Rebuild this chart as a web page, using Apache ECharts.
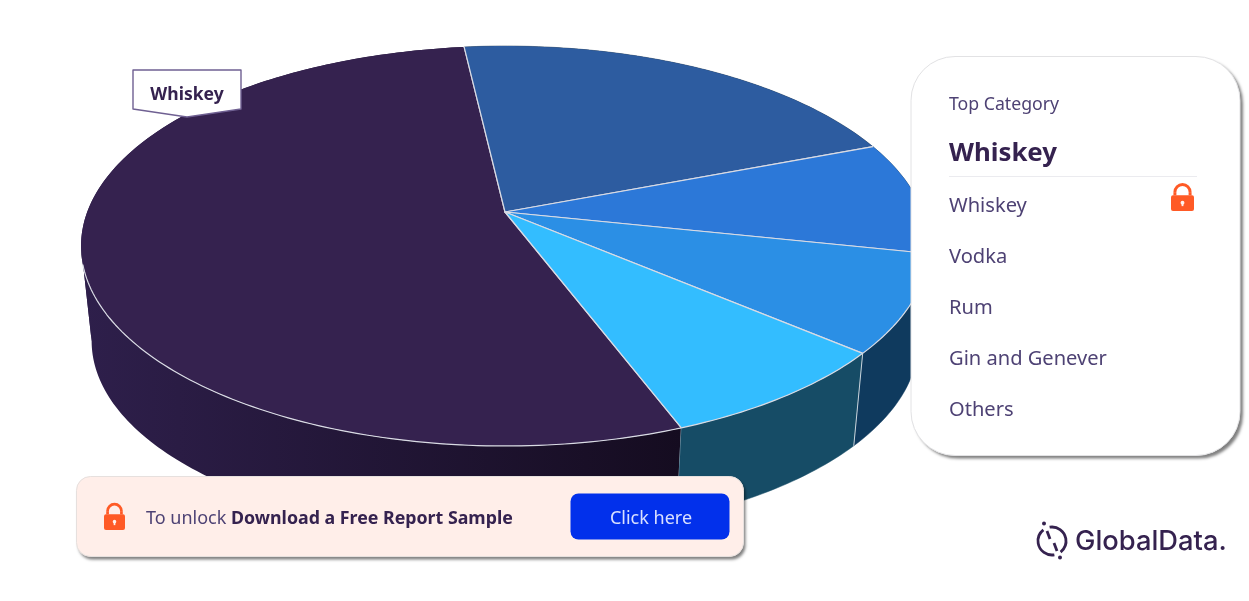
<!DOCTYPE html>
<html>
<head>
<meta charset="utf-8">
<style>html,body{margin:0;padding:0;background:#fff}#c{width:1249px;height:601px}</style>
<script src="https://cdn.jsdelivr.net/npm/echarts@6/dist/echarts.min.js"></script>
</head>
<body>
<div id="c"></div>
<script>
var categories = ['Whiskey', 'Vodka', 'Rum', 'Gin and Genever', 'Others'];
var shares = [53.9, 21.0, 9.1, 7.9, 8.0];
var topColors = ['#35224F', '#2D5CA0', '#2C78D8', '#2B8FE5', '#33BDFF'];
var sideColors = ['#211535', '#14304F', '#123A60', '#0F3A5E', '#164C66'];
var panelTitle = 'Top Category';
var topCategory = 'Whiskey';
var FONT = '"Noto Sans", sans-serif';
var INK = '#35224F', SOFT = '#4E4274', ORANGE = '#FF5A26';

// perspective disc
var CX = 505, CY = 212, A = 417.8, B = 194.2, E = 0.17, START = 69.2;
var DROP = 96, SHRINK = 0.975;
var EDGE_FROM = 10, EDGE_TO = 165, TANGENT = 170.2;
function project(deg, low) {
  var t = deg * Math.PI / 180, w = 1 - E * Math.sin(t);
  var dx = A * Math.cos(t) / w, dy = B * Math.sin(t) / w;
  return low ? [CX + dx * SHRINK, CY + DROP + dy * SHRINK] : [CX + dx, CY + dy];
}
var total = shares.reduce(function (a, b) { return a + b; }, 0);
function sliceAngles(i) {
  var before = 0;
  for (var k = 0; k < i; k++) before += shares[k];
  return [START + before / total * 360, START + (before + shares[i]) / total * 360];
}
function arc(a0, a1, low) {
  var n = Math.max(4, Math.ceil(a1 - a0)), out = [];
  for (var i = 0; i <= n; i++) out.push(project(a0 + (a1 - a0) * i / n, low));
  return out;
}
function wall(a0, a1, fill) {
  return { type: 'polygon', shape: { points: arc(a0, a1, false).concat(arc(a0, a1, true).reverse()) },
    style: { fill: fill, stroke: typeof fill === 'string' ? fill : null, lineWidth: 0.5 } };
}
function sideItem(params) {
  var i = params.dataIndex, a = sliceAngles(i);
  var fill = i === 0
    ? new echarts.graphic.LinearGradient(82, 0, 682, 0, [{ offset: 0, color: '#2E1F4B' }, { offset: 1, color: '#150C20' }], true)
    : sideColors[i];
  var kids = [];
  if (a[0] < TANGENT && a[1] > TANGENT) {
    kids.push(wall(TANGENT, a[1], fill));
    kids.push(wall(a[0], TANGENT, fill));
  } else {
    kids.push(wall(a[0], a[1], fill));
  }
  var p = project(a[0], false), q = project(a[0], true);
  kids.push({ type: 'line', shape: { x1: p[0], y1: p[1], x2: q[0], y2: q[1] }, style: { stroke: '#C9D3DC', lineWidth: 1 } });
  return { type: 'group', children: kids };
}
function topItem(params) {
  var i = params.dataIndex, a = sliceAngles(i);
  var line = { stroke: '#D9DBE4', lineWidth: 1.2, lineJoin: 'round', fill: null };
  var kids = [{ type: 'polygon', shape: { points: [[CX, CY]].concat(arc(a[0], a[1], false)) }, style: { fill: topColors[i] } }];
  var p = project(a[0], false), q = project(a[1], false);
  kids.push({ type: 'polyline', shape: { points: [p, [CX, CY], q] }, style: line });
  [0, 360].forEach(function (turn) {
    var from = Math.max(a[0], EDGE_FROM + turn), to = Math.min(a[1], EDGE_TO + turn);
    if (to > from) kids.push({ type: 'polyline', shape: { points: arc(from, to, false) }, style: line });
  });
  return { type: 'group', children: kids };
}

function txt(x, y, s, size, color, weight, align) {
  return { type: 'text', z: 100, x: x, y: y + 2, silent: true,
    style: { text: s, font: (weight || 400) + ' ' + size + 'px ' + FONT, fill: color, align: align || 'left', verticalAlign: 'middle' } };
}
function lock(x, y, w, h) {
  var bodyTop = y + h * 0.42;
  return [
    { type: 'arc', z: 100, silent: true, shape: { cx: x + w / 2, cy: y + h * 0.30, r: w * 0.33, startAngle: Math.PI, endAngle: 0, clockwise: true },
      style: { stroke: ORANGE, fill: null, lineWidth: w * 0.13 } },
    { type: 'line', z: 100, silent: true, shape: { x1: x + w * 0.17, y1: y + h * 0.30, x2: x + w * 0.17, y2: bodyTop }, style: { stroke: ORANGE, lineWidth: w * 0.13 } },
    { type: 'line', z: 100, silent: true, shape: { x1: x + w * 0.83, y1: y + h * 0.30, x2: x + w * 0.83, y2: bodyTop }, style: { stroke: ORANGE, lineWidth: w * 0.13 } },
    { type: 'rect', z: 100, silent: true, shape: { x: x, y: bodyTop, width: w, height: h - h * 0.42, r: 2 }, style: { fill: ORANGE } },
    { type: 'circle', z: 100, silent: true, shape: { cx: x + w / 2, cy: y + h * 0.69, r: w * 0.085 }, style: { fill: '#FFF1EC' } },
    { type: 'rect', z: 100, silent: true, shape: { x: x + w * 0.46, y: y + h * 0.69, width: w * 0.08, height: h * 0.13 }, style: { fill: '#FFF1EC' } }
  ];
}
function card(x, y, w, h, r, fill, edge, ox, oy) {
  return [
    { type: 'rect', z: 100, silent: true, shape: { x: x, y: y, width: w, height: h, r: r },
      style: { fill: fill, shadowColor: 'rgba(0,0,0,0.5)', shadowBlur: 3, shadowOffsetX: ox, shadowOffsetY: oy } },
    { type: 'rect', z: 100, silent: true, shape: { x: x, y: y, width: w, height: h, r: r },
      style: { fill: fill, stroke: edge, lineWidth: 1 } }
  ];
}

var shapes = [];
// callout on the largest slice
shapes.push({ type: 'polygon', z: 100, silent: true, shape: { points: [[133, 70], [241, 70], [241, 109], [187, 117], [133, 109]] },
  style: { fill: '#fff', stroke: '#6F6092', lineWidth: 1.4, lineJoin: 'round' } });
shapes.push(txt(187, 93, categories[0], 17.5, INK, 700, 'center'));
// category panel
shapes = shapes.concat(card(911, 56.5, 329, 399, 44, '#fff', '#E2E2E4', 3, 3));
shapes.push(txt(949, 103, panelTitle, 17.7, SOFT));
shapes.push(txt(949, 152, topCategory, 25.8, INK, 700));
shapes.push({ type: 'line', z: 100, silent: true, shape: { x1: 949, y1: 176.5, x2: 1197, y2: 176.5 }, style: { stroke: '#EBEBEF', lineWidth: 1 } });
categories.forEach(function (c, i) { shapes.push(txt(949, 204 + i * 51, c, 20.1, SOFT)); });
shapes = shapes.concat(lock(1171, 184, 23, 27));
// unlock banner
shapes = shapes.concat(card(76.5, 476.5, 667, 80, 14, '#FFEEE9', '#E6E0DE', 2, 3));
shapes = shapes.concat(lock(104, 503, 21, 27));
shapes.push({ type: 'text', z: 100, x: 146, y: 519, silent: true, style: {
  text: '{a|To unlock }{b|Download a Free Report Sample}', verticalAlign: 'middle',
  rich: { a: { font: '400 18px ' + FONT, fill: SOFT }, b: { font: '700 17.8px ' + FONT, fill: INK } } } });
shapes.push({ type: 'rect', z: 100, silent: true, shape: { x: 570.5, y: 493.5, width: 159, height: 46, r: 8 }, style: { fill: '#0230EB' } });
shapes.push(txt(651, 517, 'Click here', 18, '#D9E0FF', 400, 'center'));
// logo
shapes.push({ type: 'arc', z: 100, silent: true, shape: { cx: 1052, cy: 541, r: 14, startAngle: 1.4, endAngle: 4.05, clockwise: true }, style: { stroke: INK, fill: null, lineWidth: 2.8 } });
shapes.push({ type: 'arc', z: 100, silent: true, shape: { cx: 1052, cy: 541, r: 14, startAngle: 4.54, endAngle: 7.19, clockwise: true }, style: { stroke: INK, fill: null, lineWidth: 2.8 } });
shapes.push({ type: 'circle', z: 100, silent: true, shape: { cx: 1044, cy: 523.5, r: 2 }, style: { fill: INK } });
shapes.push({ type: 'circle', z: 100, silent: true, shape: { cx: 1060, cy: 557.5, r: 2 }, style: { fill: INK } });
shapes.push({ type: 'line', z: 100, silent: true, shape: { x1: 1047, y1: 531, x2: 1050, y2: 539 }, style: { stroke: INK, lineWidth: 2.8 } });
shapes.push({ type: 'line', z: 100, silent: true, shape: { x1: 1054, y1: 543, x2: 1057, y2: 551 }, style: { stroke: INK, lineWidth: 2.8 } });
shapes.push({ type: 'text', z: 100, x: 1075, y: 542, silent: true, style: { text: 'GlobalData.', font: '500 27.3px Inter, sans-serif', fill: INK, verticalAlign: 'middle' } });

var chart = echarts.init(document.getElementById('c'), null, { renderer: 'canvas' });
chart.setOption({
  animation: false,
  backgroundColor: '#fff',
  series: [
    { type: 'custom', name: 'side', coordinateSystem: 'none', silent: true, z: 1, data: shares, renderItem: sideItem },
    { type: 'custom', name: 'top', coordinateSystem: 'none', silent: true, z: 2, data: shares, renderItem: topItem }
  ],
  graphic: { elements: shapes }
});
</script>
</body>
</html>
